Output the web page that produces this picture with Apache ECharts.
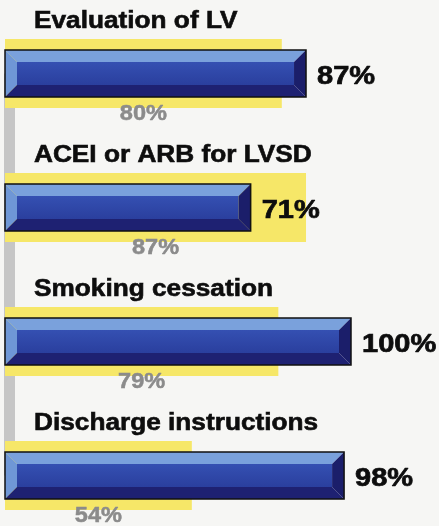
<!DOCTYPE html>
<html>
<head>
<meta charset="utf-8">
<script src="https://cdn.jsdelivr.net/npm/echarts@6/dist/echarts.min.js"></script>
<style>
  html, body { margin: 0; padding: 0; background: #f6f6f4; }
  #container { width: 439px; height: 526px; }
</style>
</head>
<body>
<div id="container"></div>
<script>
var categories = ['Evaluation of LV', 'ACEI or ARB for LVSD', 'Smoking cessation', 'Discharge instructions'];
var hospitalRates = [87, 71, 100, 98];   // blue bars
var benchmarkRates = [80, 87, 79, 54];   // yellow bars

var FONT = '"Liberation Sans", Arial, sans-serif';
var BEVEL = 12;

var dom = document.getElementById('container');
var myChart = echarts.init(dom, null, { renderer: 'canvas' });

var seriesData = categories.map(function (name, i) {
    return [i, hospitalRates[i], benchmarkRates[i]];
});

function renderItem(params, api) {
    var i = api.value(0);
    var start = api.coord([0, i]);
    var blueEnd = api.coord([api.value(1), i])[0];
    var yellowEnd = api.coord([api.value(2), i])[0];
    var x0 = start[0];
    var cy = start[1];
    var children = [];

    // grey connector down to the next row
    if (i < categories.length - 1) {
        var ny = api.coord([0, i + 1])[1];
        children.push({
            type: 'rect',
            shape: { x: x0 - 1, y: cy, width: 11, height: ny - cy },
            style: { fill: '#c6c6c6' }
        });
    }

    // yellow benchmark bar
    children.push({
        type: 'rect',
        shape: { x: x0, y: cy - 34.5, width: yellowEnd - x0, height: 69 },
        style: { fill: '#f6e768' }
    });

    // bevelled blue bar
    var L = x0, R = blueEnd, T = cy - 23.5, B = cy + 23.5, b = BEVEL;
    children.push({
        type: 'rect',
        shape: { x: L + b, y: T + b, width: R - L - 2 * b, height: B - T - 2 * b },
        style: {
            fill: new echarts.graphic.LinearGradient(0, 0, 0, 1, [
                { offset: 0, color: '#3550b2' },
                { offset: 1, color: '#2a3f9e' }
            ])
        }
    });
    children.push({
        type: 'polygon',
        shape: { points: [[L, T], [R, T], [R - b, T + b], [L + b, T + b]] },
        style: { fill: '#7aa1dc' }
    });
    children.push({
        type: 'polygon',
        shape: { points: [[L, T], [L + b, T + b], [L + b, B - b], [L, B]] },
        style: { fill: '#6f97d6' }
    });
    children.push({
        type: 'polygon',
        shape: { points: [[L, B], [L + b, B - b], [R - b, B - b], [R, B]] },
        style: { fill: '#1e2172' }
    });
    children.push({
        type: 'polygon',
        shape: { points: [[R, T], [R, B], [R - b, B - b], [R - b, T + b]] },
        style: { fill: '#1b1e6a' }
    });
    children.push({
        type: 'rect',
        shape: { x: L, y: T, width: R - L, height: B - T },
        style: { fill: 'none', stroke: '#111', lineWidth: 1.5 }
    });

    // category title
    children.push({
        type: 'text',
        x: x0 + 29, y: cy - 52, scaleX: 1.14,
        style: {
            text: categories[i], fill: '#0d0d0d',
            stroke: '#0d0d0d', lineWidth: 0.6,
            font: 'bold 23px ' + FONT,
            align: 'left', verticalAlign: 'middle'
        }
    });
    // hospital value
    children.push({
        type: 'text',
        x: blueEnd + 11, y: cy + 3.5, scaleX: 1.16,
        style: {
            text: api.value(1) + '%', fill: '#0d0d0d',
            stroke: '#0d0d0d', lineWidth: 0.7,
            font: 'bold 25px ' + FONT,
            align: 'left', verticalAlign: 'middle'
        }
    });
    // benchmark value
    children.push({
        type: 'text',
        x: (x0 + yellowEnd) / 2, y: cy + 40.5, scaleX: 1.07,
        style: {
            text: api.value(2) + '%', fill: '#8b8b8b',
            stroke: '#8b8b8b', lineWidth: 0.5,
            font: 'bold 22px ' + FONT,
            align: 'center', verticalAlign: 'middle'
        }
    });

    return { type: 'group', children: children };
}

var option = {
    backgroundColor: '#f6f6f4',
    animation: false,
    grid: { left: 5, right: 88, top: 73.5, bottom: 50.5 },
    xAxis: { type: 'value', min: 0, max: 100, show: false },
    yAxis: { type: 'category', data: categories, inverse: true, boundaryGap: false, show: false },
    series: [{
        type: 'custom',
        renderItem: renderItem,
        clip: false,
        encode: { x: [1, 2], y: 0 },
        data: seriesData
    }]
};
myChart.setOption(option);

window.onresize = function () {
    myChart.resize();
};
</script>
</body>
</html>
